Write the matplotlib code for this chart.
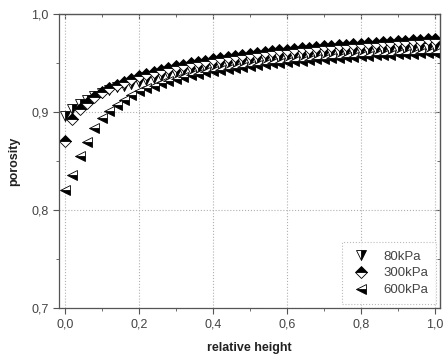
import matplotlib
matplotlib.use("Agg")
import matplotlib.pyplot as plt
import matplotlib.ticker as mticker
import numpy as np

plt.rcParams["font.family"] = ["Liberation Sans", "DejaVu Sans"]

heights = [round(0.02 * i, 2) for i in range(51)]

por_80kpa = [
    0.896, 0.903, 0.908, 0.912, 0.916, 0.919, 0.922, 0.925, 0.927, 0.929,
    0.931, 0.933, 0.935, 0.937, 0.939, 0.940, 0.942, 0.943, 0.944, 0.946,
    0.947, 0.948, 0.949, 0.950, 0.951, 0.952, 0.953, 0.954, 0.955, 0.955,
    0.956, 0.957, 0.957, 0.958, 0.959, 0.959, 0.960, 0.960, 0.961, 0.961,
    0.962, 0.962, 0.963, 0.963, 0.963, 0.964, 0.964, 0.965, 0.965, 0.965,
    0.966,
]
por_300kpa = [
    0.870, 0.893, 0.903, 0.909, 0.915, 0.920, 0.924, 0.928, 0.931, 0.934,
    0.937, 0.939, 0.941, 0.943, 0.945, 0.947, 0.948, 0.950, 0.951, 0.952,
    0.954, 0.955, 0.956, 0.957, 0.958, 0.959, 0.960, 0.961, 0.962, 0.963,
    0.963, 0.964, 0.965, 0.965, 0.966, 0.967, 0.967, 0.968, 0.968, 0.969,
    0.969, 0.970, 0.970, 0.971, 0.971, 0.972, 0.972, 0.973, 0.973, 0.974,
    0.974,
]
por_600kpa = [
    0.820, 0.836, 0.855, 0.869, 0.884, 0.894, 0.901, 0.907, 0.912, 0.917,
    0.921, 0.924, 0.927, 0.930, 0.932, 0.934, 0.936, 0.938, 0.939, 0.941,
    0.942, 0.943, 0.944, 0.945, 0.946, 0.947, 0.948, 0.949, 0.950, 0.950,
    0.951, 0.952, 0.952, 0.953, 0.954, 0.954, 0.955, 0.955, 0.956, 0.956,
    0.957, 0.957, 0.958, 0.958, 0.958, 0.959, 0.959, 0.959, 0.960, 0.960,
    0.960,
]

series = [
    ("80kPa", por_80kpa, dict(marker="v", fillstyle="right")),
    ("300kPa", por_300kpa, dict(marker="D", fillstyle="top", markersize=6)),
    ("600kPa", por_600kpa, dict(marker="<", fillstyle="bottom")),
]

fig = plt.figure(figsize=(4.43, 3.57), dpi=100)
ax = fig.add_axes([0.133, 0.137, 0.860, 0.824])

for label, vals, style in series:
    kw = dict(linestyle="none", markersize=7, markerfacecolor="black",
              markerfacecoloralt="white", markeredgecolor="black",
              markeredgewidth=0.6)
    kw.update(style)
    ax.plot(heights, vals, label=label, **kw)

ax.set_xlim(-0.016, 1.0135)
ax.set_ylim(0.7, 1.0)
ax.xaxis.set_major_locator(mticker.MultipleLocator(0.2))
ax.xaxis.set_minor_locator(mticker.MultipleLocator(0.1))
ax.yaxis.set_major_locator(mticker.MultipleLocator(0.1))
ax.yaxis.set_minor_locator(mticker.MultipleLocator(0.05))
comma = mticker.FuncFormatter(lambda v, p: f"{v:.1f}".replace(".", ","))
ax.xaxis.set_major_formatter(comma)
ax.yaxis.set_major_formatter(comma)

ax.grid(True, which="major", color="#b0b0b0", linestyle=":", linewidth=0.8)
ax.tick_params(which="both", direction="out", labelsize=9, colors="#555555",
               labelcolor="#444444")
ax.tick_params(which="major", length=4)
ax.tick_params(which="minor", length=2)
for side in ax.spines.values():
    side.set_color("#555555")
    side.set_linewidth(0.9)

top = ax.secondary_xaxis("top")
top.xaxis.set_major_locator(mticker.MultipleLocator(0.2))
top.xaxis.set_minor_locator(mticker.MultipleLocator(0.1))
top.tick_params(which="both", direction="in", labeltop=False, colors="#555555")
right = ax.secondary_yaxis("right")
right.yaxis.set_major_locator(mticker.MultipleLocator(0.1))
right.yaxis.set_minor_locator(mticker.MultipleLocator(0.05))
right.tick_params(which="both", direction="in", labelright=False, colors="#555555")

ax.set_xlabel("relative height", fontsize=9, fontweight="bold", color="#222222",
              labelpad=8)
ax.set_ylabel("porosity", fontsize=9, fontweight="bold", color="#222222",
              labelpad=8)

leg = ax.legend(loc="lower right", fontsize=9.5, frameon=True, fancybox=False,
                handletextpad=0.9, borderpad=0.6, labelspacing=0.35,
                handlelength=1.6, borderaxespad=0.3)
leg.get_frame().set_edgecolor("#aaaaaa")
leg.get_frame().set_linestyle(":")
leg.get_frame().set_linewidth(0.8)
for t in leg.get_texts():
    t.set_color("#444444")

fig.savefig("out.png", dpi=100)
